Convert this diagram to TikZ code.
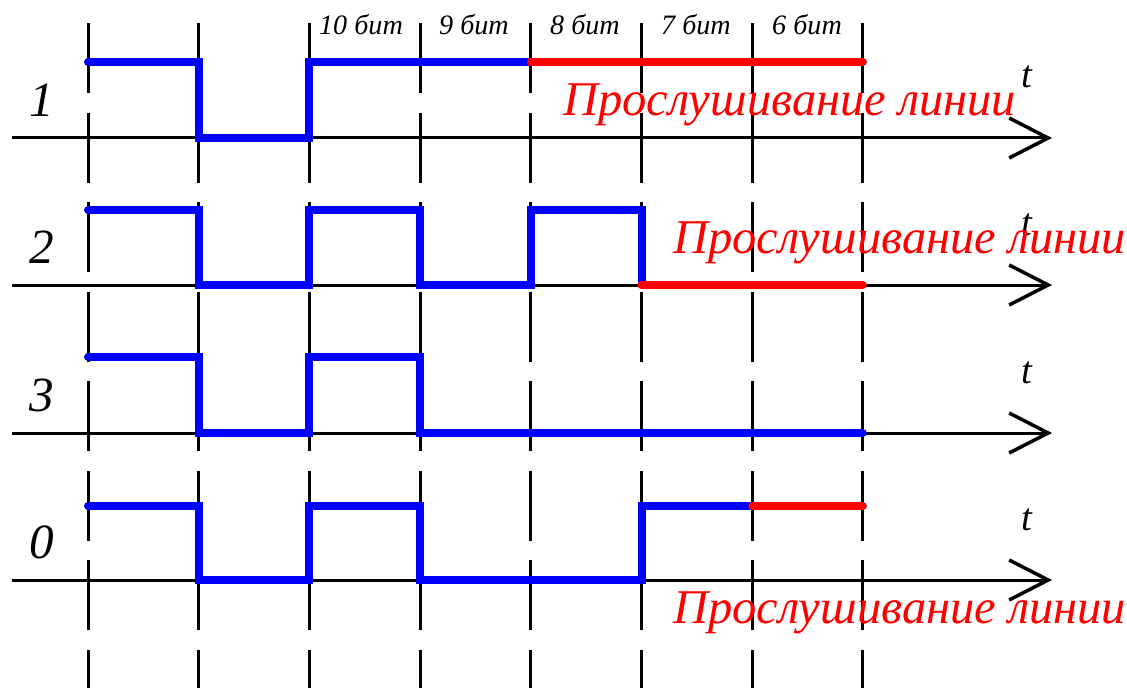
\documentclass[tikz,border=0pt]{standalone}
\usepackage{fontspec}
\setmainfont{Liberation Serif}
\usetikzlibrary{positioning,arrows.meta}
\definecolor{sigblue}{HTML}{0000FF}
\definecolor{sigred}{HTML}{FF0000}

\begin{document}
\begin{tikzpicture}[x=0.2mm, y=-0.2mm,
    grid/.style={line width=0.6mm, draw=black, dash pattern=on 14mm off 3.9mm},
    axis/.style={line width=0.6mm, draw=black,
      -{Straight Barb[length=7.8mm,width=8mm,line width=0.7mm]}},
    sig/.style={line width=1.6mm, line cap=round, line join=miter, draw=sigblue},
    listen/.style={sig, draw=sigred},
    rowlabel/.style={font=\fontsize{28}{30}\selectfont\itshape, anchor=base, inner sep=0pt},
    tlabel/.style={font=\fontsize{22}{24}\selectfont\itshape, anchor=base, inner sep=0pt},
    bitlabel/.style={font=\fontsize{16}{18}\selectfont\itshape, inner sep=0pt},
    note/.style={font=\fontsize{27.6}{29}\selectfont\itshape, text=sigred,
      anchor=base west, inner sep=0pt},
  ]
  \useasboundingbox (0,0) rectangle (1127,688);

  % ------------------------------------------------------------ bit slots
  \foreach \i/\x in {0/88,1/198.7,2/309.4,3/420.1,4/530.8,5/641.5,6/752.2,7/862.9} {
    \coordinate (top\i) at (\x,23);
    \coordinate (bot\i) at (\x,688);
    \draw[grid] (top\i) -- (bot\i);
  }

  \foreach \n/\x in {10/361,9/474,8/585,7/696,6/807}
    \node[bitlabel] (bit\n) at (\x,25) {\n\ бит};

  % ------------------------------------------------------------------ axes
  \foreach \r/\y/\lbl in {a/138/1,b/285/2,c/433/3,d/580/0} {
    \coordinate (ax\r s) at (12,\y);
    \coordinate (ax\r e) at (1052,\y);
    \draw[axis] (ax\r s) -- (ax\r e);
    \node[rowlabel] (row\r) at (42,\y-22) {\lbl};
    \node[tlabel] (t\r) at (1027,\y-50) {t};
  }

  % --------------------------------------------------------------- signals
  % station 1
  \draw[sig] (88,62) -- (198.7,62) -- (198.7,138) -- (309.4,138) -- (309.4,62) -- (530.8,62);
  \draw[listen] (530.8,62) -- (862.9,62);
  % station 2
  \draw[sig] (88,210) -- (198.7,210) -- (198.7,285) -- (309.4,285) -- (309.4,210)
    -- (420.1,210) -- (420.1,285) -- (530.8,285) -- (530.8,210) -- (641.5,210) -- (641.5,285);
  \draw[listen] (641.5,285) -- (862.9,285);
  % station 3
  \draw[sig] (88,357) -- (198.7,357) -- (198.7,433) -- (309.4,433) -- (309.4,357)
    -- (420.1,357) -- (420.1,433) -- (862.9,433);
  % station 0
  \draw[sig] (88,506) -- (198.7,506) -- (198.7,580) -- (309.4,580) -- (309.4,506)
    -- (420.1,506) -- (420.1,580) -- (641.5,580) -- (641.5,506) -- (752.2,506);
  \draw[listen] (752.2,506) -- (862.9,506);

  % ----------------------------------------------------------------- notes
  \node[note] (notea) at (563,115) {Прослушивание линии};
  \node[note] (noteb) at (673,253) {Прослушивание линии};
  \node[note] (noted) at (673,623) {Прослушивание линии};
\end{tikzpicture}
\end{document}
